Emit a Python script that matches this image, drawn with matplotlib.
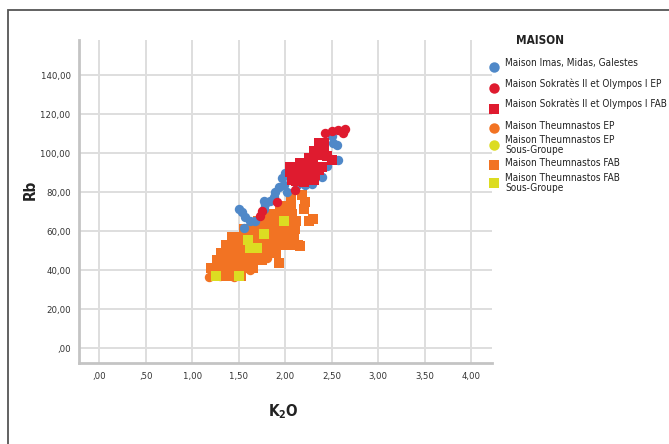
import matplotlib
matplotlib.use("Agg")
import matplotlib.pyplot as plt
from matplotlib.lines import Line2D
from matplotlib.patches import Rectangle
from matplotlib.ticker import FuncFormatter

plt.rcParams['font.family'] = ['DejaVu Sans']
plt.rcParams['font.stretch'] = 'condensed'

# ---- data: K2O (x) vs Rb (y) per group ----
imas_k2o = [2.518, 2.571, 2.500, 2.000, 1.964, 1.982, 1.929, 1.893, 1.875, 1.839,
            1.768, 1.786, 1.768, 1.500, 1.536, 1.571, 1.625, 1.679, 1.554, 2.125,
            2.214, 2.286, 2.393, 2.018, 2.560, 2.450]
imas_rb = [105.2, 96.5, 108.7, 89.6, 87.0, 83.5, 82.6, 80.0, 77.4, 75.7,
           75.7, 73.9, 71.3, 71.3, 69.6, 67.0, 65.2, 65.2, 61.7, 83.5,
           83.5, 84.3, 87.8, 80.0, 104.0, 93.5]

sok_ep_k2o = [2.430, 2.500, 2.570, 2.640, 2.620, 2.107, 1.911, 1.750, 1.732]
sok_ep_rb = [110.4, 111.3, 111.8, 112.2, 110.4, 80.9, 74.8, 70.4, 67.8]

sok_fab_k2o = [2.357, 2.411, 2.304, 2.375, 2.446, 2.500, 2.250, 2.214, 2.286, 2.357,
               2.107, 2.054, 2.107, 2.179, 2.250, 2.304, 2.196, 2.071, 2.321, 2.393,
               2.160, 2.230, 2.120, 2.050, 2.160, 2.300, 2.420, 2.370]
sok_fab_rb = [105.2, 102.6, 100.9, 99.1, 98.3, 96.5, 97.4, 94.8, 93.0, 91.3,
              93.0, 90.4, 87.8, 89.6, 88.7, 86.1, 85.2, 86.1, 88.7, 93.0,
              91.0, 91.0, 85.5, 93.0, 95.0, 96.5, 105.0, 102.5]

theu_ep_k2o = [1.179, 1.300, 1.450, 1.620, 1.800, 1.560, 1.900, 2.050]
theu_ep_rb = [36.5, 36.8, 36.5, 40.0, 46.0, 57.5, 60.0, 64.0]

theu_ep_sg_k2o = []
theu_ep_sg_rb = []

theu_fab_k2o = [
    1.22, 1.28, 1.34, 1.40, 1.46, 1.52,
    1.24, 1.30, 1.36, 1.42, 1.48, 1.54, 1.60, 1.65,
    1.27, 1.33, 1.39, 1.45, 1.51, 1.57, 1.63, 1.69, 1.75,
    1.31, 1.37, 1.43, 1.49, 1.55, 1.61, 1.67, 1.73, 1.79, 1.85, 1.90,
    1.36, 1.42, 1.48, 1.54, 1.60, 1.66, 1.72, 1.78, 1.84, 1.90, 1.96, 2.02, 2.08, 2.14,
    1.43, 1.49, 1.55, 1.61, 1.67, 1.73, 1.79, 1.85, 1.91, 1.97, 2.03, 2.09,
    1.56, 1.62, 1.68, 1.74, 1.80, 1.86, 1.92, 1.98, 2.04, 2.10,
    1.71, 1.77, 1.83, 1.89, 1.95, 2.01, 2.07, 2.12,
    1.83, 1.89, 1.95, 2.01, 2.07,
    1.94, 2.00, 2.06,
    2.06,
    2.18, 2.21, 2.20, 2.30, 2.26, 1.93, 2.16, 1.20,
]
theu_fab_rb = [
    37, 37, 37, 37, 37, 37,
    41, 41, 41, 41, 41, 41, 41, 41,
    45, 45, 45, 45, 45, 45, 45, 45, 45,
    49, 49, 49, 49, 49, 49, 49, 49, 49, 49, 49,
    53, 53, 53, 53, 53, 53, 53, 53, 53, 53, 53, 53, 53, 53,
    57, 57, 57, 57, 57, 57, 57, 57, 57, 57, 57, 57,
    61, 61, 61, 61, 61, 61, 61, 61, 61, 61,
    65, 65, 65, 65, 65, 65, 65, 65,
    69, 69, 69, 69, 69,
    73, 73, 73,
    77,
    78.3, 74.8, 71.3, 66.1, 65.2, 43.5, 52.2, 40.9,
]

theu_fab_sg_k2o = [1.250, 1.500, 1.595, 1.625, 1.700, 1.768, 1.982]
theu_fab_sg_rb = [37.0, 37.0, 55.7, 51.6, 51.6, 58.3, 65.2]

x_ticks = [0, 0.5, 1.0, 1.5, 2.0, 2.5, 3.0, 3.5, 4.0]
y_ticks = [0, 20, 40, 60, 80, 100, 120, 140]

group_labels = [
    "Maison Imas, Midas, Galestes",
    "Maison Sokratès II et Olympos I EP",
    "Maison Sokratès II et Olympos I FAB",
    "Maison Theumnastos EP",
    "Maison Theumnastos EP\nSous-Groupe",
    "Maison Theumnastos FAB",
    "Maison Theumnastos FAB\nSous-Groupe",
]

BLUE = "#4f88c8"
RED = "#df1b2f"
ORANGE = "#f27323"
YELLOW = "#dcdc22"

styles = [
    (BLUE, "o"), (RED, "o"), (RED, "s"), (ORANGE, "o"),
    (YELLOW, "o"), (ORANGE, "s"), (YELLOW, "s"),
]

# drawing order: orange groups underneath, then sub-groups, then the others
series = [
    (theu_fab_k2o, theu_fab_rb, styles[5]),
    (theu_ep_k2o, theu_ep_rb, styles[3]),
    (theu_ep_sg_k2o, theu_ep_sg_rb, styles[4]),
    (theu_fab_sg_k2o, theu_fab_sg_rb, styles[6]),
    (imas_k2o, imas_rb, styles[0]),
    (sok_ep_k2o, sok_ep_rb, styles[1]),
    (sok_fab_k2o, sok_fab_rb, styles[2]),
]

fig = plt.figure(figsize=(6.69, 4.44), dpi=100)
ax = fig.add_axes([0.118, 0.182, 0.617, 0.728])

for xs, ys, (col, mk) in series:
    ax.scatter(xs, ys, s=50 if mk == "s" else 46, c=col, marker=mk,
               linewidths=0, zorder=3)

ax.set_xlim(-0.22, 4.22)
ax.set_ylim(-7.7, 158)
ax.set_xticks(x_ticks)
ax.set_yticks(y_ticks)


def fmt(v, _pos):
    s = f"{v:.2f}".replace(".", ",")
    if s.startswith("0,"):
        s = s[1:]
    return s


ax.xaxis.set_major_formatter(FuncFormatter(fmt))
ax.yaxis.set_major_formatter(FuncFormatter(fmt))
ax.tick_params(length=0, labelsize=6.8, labelcolor="#333333")
ax.tick_params(axis="x", pad=6)
ax.tick_params(axis="y", pad=6)
ax.grid(True, color="#dedede", linewidth=1.4, zorder=0)
ax.set_axisbelow(True)
for side in ("top", "right"):
    ax.spines[side].set_visible(False)
for side in ("left", "bottom"):
    ax.spines[side].set_color("#c4c4c4")
    ax.spines[side].set_linewidth(2)

fig.text(0.045, 0.572, "Rb", rotation=90, ha="center", va="center",
         fontsize=11, fontweight="bold", color="#222222")
fig.text(0.423, 0.072, "K$_\\mathbf{2}$O", ha="center", va="center",
         fontsize=11, fontweight="bold", color="#222222")

# legend drawn by hand so that two-line entries keep the compact spacing
fig.text(0.807, 0.908, "MAISON", ha="center", va="center",
         fontsize=8.5, fontweight="bold", color="#222222")
entry_y = [63, 84, 104, 126, 145, 163, 183]
marker_dy = [4, 4, 5, 2, 0, 2, 0]
for lab, (col, mk), ypx, dy in zip(group_labels, styles, entry_y, marker_dy):
    fy = 1 - ypx / 444
    fig.add_artist(Line2D([494 / 669], [1 - (ypx + dy) / 444],
                          transform=fig.transFigure, marker=mk, markersize=7.5,
                          color=col, markeredgewidth=0, linestyle="none"))
    fig.text(505 / 669, fy, lab, ha="left", va="center", fontsize=7.2,
             color="#222222", linespacing=1.1)

fig.add_artist(Rectangle((8 / 669, -0.2), 1.2, 0.2 + 1 - 10 / 444,
                         transform=fig.transFigure, fill=False,
                         edgecolor="#555555", linewidth=1.3))

fig.savefig("out.png", dpi=100)
